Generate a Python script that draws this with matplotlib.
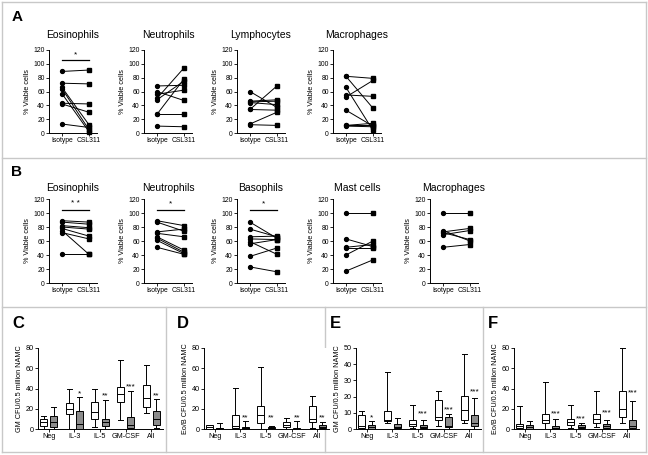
import matplotlib
matplotlib.use("Agg")
import matplotlib.pyplot as plt

plt.rcParams['font.family'] = ['Liberation Sans', 'DejaVu Sans']

W, H = 648, 455

# ---- panel A: % viable cells, paired Isotype vs CSL311
a_cells = ["Eosinophils", "Neutrophils", "Lymphocytes", "Macrophages"]
a_iso = [[89, 72, 66, 64, 57, 43, 42, 13],
         [68, 60, 56, 50, 48, 27, 27, 10],
         [60, 46, 45, 44, 34, 34, 13, 12],
         [82, 82, 66, 55, 52, 33, 12, 11, 10]]
a_csl = [[91, 71, 12, 5, 2, 42, 30, 8],
         [69, 47, 62, 94, 75, 78, 27, 9],
         [37, 48, 46, 41, 68, 33, 30, 11],
         [79, 36, 4, 53, 76, 10, 12, 14, 9]]
a_sig = ["*", "", "", ""]

# ---- panel B
b_cells = ["Eosinophils", "Neutrophils", "Basophils", "Mast cells", "Macrophages"]
b_iso = [[89, 87, 82, 80, 78, 75, 72, 41],
         [89, 87, 73, 71, 66, 64, 61, 51],
         [87, 77, 66, 63, 59, 56, 38, 23],
         [100, 63, 51, 50, 40, 17],
         [100, 75, 73, 72, 69, 51]]
b_csl = [[87, 84, 79, 77, 67, 41, 63, 41],
         [82, 74, 77, 66, 47, 44, 42, 41],
         [64, 66, 67, 62, 41, 62, 50, 16],
         [100, 52, 55, 50, 60, 33],
         [100, 60, 78, 62, 75, 55]]
b_sig = ["* *", "*", "*", "", ""]

groups = ["Isotype", "CSL311"]

# ---- panels C-F: box stats per condition [whislo, q1, med, q3, whishi]
conds = ["Neg", "IL-3", "IL-5", "GM-CSF", "All"]

c_white = [[0, 3.3, 6.5, 10, 12.4], [0, 14.7, 19.6, 25.5, 39.5], [2.3, 9.8, 16.3, 27, 39.5],
           [9.2, 27, 34.3, 41.8, 68.6], [15.7, 21.6, 30.4, 43.5, 63]]
c_gray = [[0, 1.6, 6.5, 12.4, 21.5], [0, 0, 4.9, 18, 31.4], [0, 2.6, 6.5, 10, 28.8],
          [0, 1, 4.2, 11.8, 37.9], [1, 4.2, 9.8, 17.3, 29.7]]
c_stars = ["", "*", "**", "***", "**"]
c_star_y = [0, 35, 33, 42, 33]

d_white = [[0, 0, 2, 3.5, 3.5], [0, 1, 3.2, 13.9, 40.3], [0, 5.8, 13.9, 22.6, 61.3],
           [0, 2, 4.2, 6.8, 10.6], [1, 7.4, 9.7, 22.6, 32.3]]
d_gray = [[0, 0, 0.5, 1, 5.8], [0, 0, 0.6, 2, 8], [0, 0.6, 1.3, 2, 2.6],
          [0, 0, 0.3, 1, 8], [0, 1, 2, 3.5, 6.5]]
d_stars = ["", "**", "**", "**", "**"]
d_star_y = [0, 11, 11, 11, 11]

e_white = [[0, 0.6, 2, 8.8, 11.3], [3.7, 4.7, 5.8, 11.3, 35], [0.4, 2, 3.3, 5.8, 15],
           [2, 5.8, 7.2, 18, 23.7], [3.7, 5.8, 12, 20.2, 46.3]]
e_gray = [[0, 0.2, 1.2, 2.3, 4.7], [0, 0.6, 1.2, 3.1, 6.8], [0, 0.4, 1.2, 2.7, 5.8],
          [0, 1, 2, 7.4, 9.3], [0, 1.6, 3.7, 8.8, 19]]
e_stars = ["*", "", "***", "***", "***"]
e_star_y = [6.8, 0, 9.5, 12, 23]

f_white = [[0, 1, 2.6, 4.9, 22.4], [0, 5.9, 9.2, 15.1, 46], [1, 4.3, 6.6, 9.9, 24],
           [2, 5.9, 9.9, 15.1, 37.2], [5.9, 11.8, 19.7, 37.2, 80]]
f_gray = [[0, 0.3, 2, 4.3, 8.2], [0, 0.3, 1.3, 3.3, 9.9], [0, 0.6, 2, 3.6, 5.9],
          [0, 1, 2.6, 4.9, 8.6], [0, 1, 3.3, 9.2, 28]]
f_stars = ["", "***", "***", "***", "***"]
f_star_y = [0, 15, 10, 16, 36]

fig = plt.figure(figsize=(W / 100, H / 100), dpi=100)

# background layer in pixel coords: panel frames and letters
bg = fig.add_axes([0, 0, 1, 1])
bg.set_xlim(0, W)
bg.set_ylim(H, 0)
bg.axis("off")
fc = "#c8c8c8"
for y in [2, 158, 307, 452]:
    bg.plot([2, 646], [y, y], color=fc, lw=1)
for x in [2, 646]:
    bg.plot([x, x], [2, 452], color=fc, lw=1)
for x in [166, 325, 483]:
    bg.plot([x, x], [307, 452], color=fc, lw=1)
for lab, x, y, fs in [("A", 17, 17, 11), ("B", 17, 172, 11), ("C", 18, 323, 12),
                      ("D", 183, 323, 12), ("E", 335, 323, 12), ("F", 493, 323, 12)]:
    bg.text(x, y, lab, fontsize=fs, fontweight="bold", ha="center", va="center")


def px_ax(left, top, right, bottom):
    return fig.add_axes([left / W, 1 - bottom / H, (right - left) / W, (bottom - top) / H])


def style(ax, lsize=4.9):
    for s in ["top", "right"]:
        ax.spines[s].set_visible(False)
    for s in ["left", "bottom"]:
        ax.spines[s].set_linewidth(0.7)
    ax.tick_params(length=2, width=0.6, pad=1, labelsize=lsize)


def paired(ax, title, iso, csl, sig, tpad):
    for a, b in zip(iso, csl):
        ax.plot([0, 1], [a, b], color="black", lw=0.7, zorder=2)
    ax.plot([0] * len(iso), iso, "o", color="black", ms=2.8, zorder=3, clip_on=False)
    ax.plot([1] * len(csl), csl, "s", color="black", ms=2.8, zorder=3, clip_on=False)
    ax.set_xlim(-0.48, 1.3)
    ax.set_ylim(0, 120)
    ax.set_yticks(range(0, 121, 20))
    ax.set_xticks([0, 1])
    ax.set_xticklabels(groups)
    ax.set_ylabel("% Viable cells", fontsize=5.2, labelpad=2)
    ax.set_title(title, fontsize=7.5, pad=tpad)
    style(ax)
    if sig:
        ax.plot([0, 1], [105, 105], color="black", lw=0.9)
        ax.text(0.5, 108, sig, ha="center", va="bottom", fontsize=6)


for i, name in enumerate(a_cells):
    left = [49, 144, 237, 333][i]
    ax = px_ax(left, 50, left + 48, 133)
    paired(ax, name, a_iso[i], a_csl[i], a_sig[i], 9)

for i, name in enumerate(b_cells):
    left = [49, 144, 237, 333, 430][i]
    ax = px_ax(left, 199, left + 48, 283)
    paired(ax, name, b_iso[i], b_csl[i], b_sig[i], 6)


def boxes(ax, white, gray, stars, star_y, ymax, step, ylabel):
    for series, fill, off in [(white, "white", -0.2), (gray, "#8c8c8c", 0.2)]:
        stats = [dict(whislo=s[0], q1=s[1], med=s[2], q3=s[3], whishi=s[4], fliers=[])
                 for s in series]
        ax.bxp(stats, positions=[j + off for j in range(len(series))], widths=0.28,
               capwidths=0.2, patch_artist=True, showfliers=False,
               boxprops=dict(facecolor=fill, edgecolor="black", lw=0.7),
               medianprops=dict(color="black", lw=0.7),
               whiskerprops=dict(color="black", lw=0.7),
               capprops=dict(color="black", lw=0.7))
    for j, s in enumerate(stars):
        if s:
            ax.text(j + 0.2, star_y[j], s, ha="center", va="center", fontsize=6)
    ax.set_xlim(-0.42, 4.46)
    ax.set_ylim(0, ymax)
    ax.set_yticks(range(0, ymax + 1, step))
    ax.set_xticks(range(len(conds)))
    ax.set_xticklabels(conds)
    ax.set_ylabel(ylabel, fontsize=5.2, labelpad=2)
    style(ax, 5.2)


gm = "GM CFU/0.5 million NAMC"
eo = "Eo/B CFU/0.5 million NAMC"
panels = [(38, c_white, c_gray, c_stars, c_star_y, 80, 20, gm),
          (204, d_white, d_gray, d_stars, d_star_y, 80, 20, eo),
          (356, e_white, e_gray, e_stars, e_star_y, 50, 10, gm),
          (514, f_white, f_gray, f_stars, f_star_y, 80, 20, eo)]
for left, wh, gr, st, sy, ymax, step, lab in panels:
    ax = px_ax(left, 348, left + 125, 429)
    boxes(ax, wh, gr, st, sy, ymax, step, lab)

fig.savefig("out.png", dpi=100)
